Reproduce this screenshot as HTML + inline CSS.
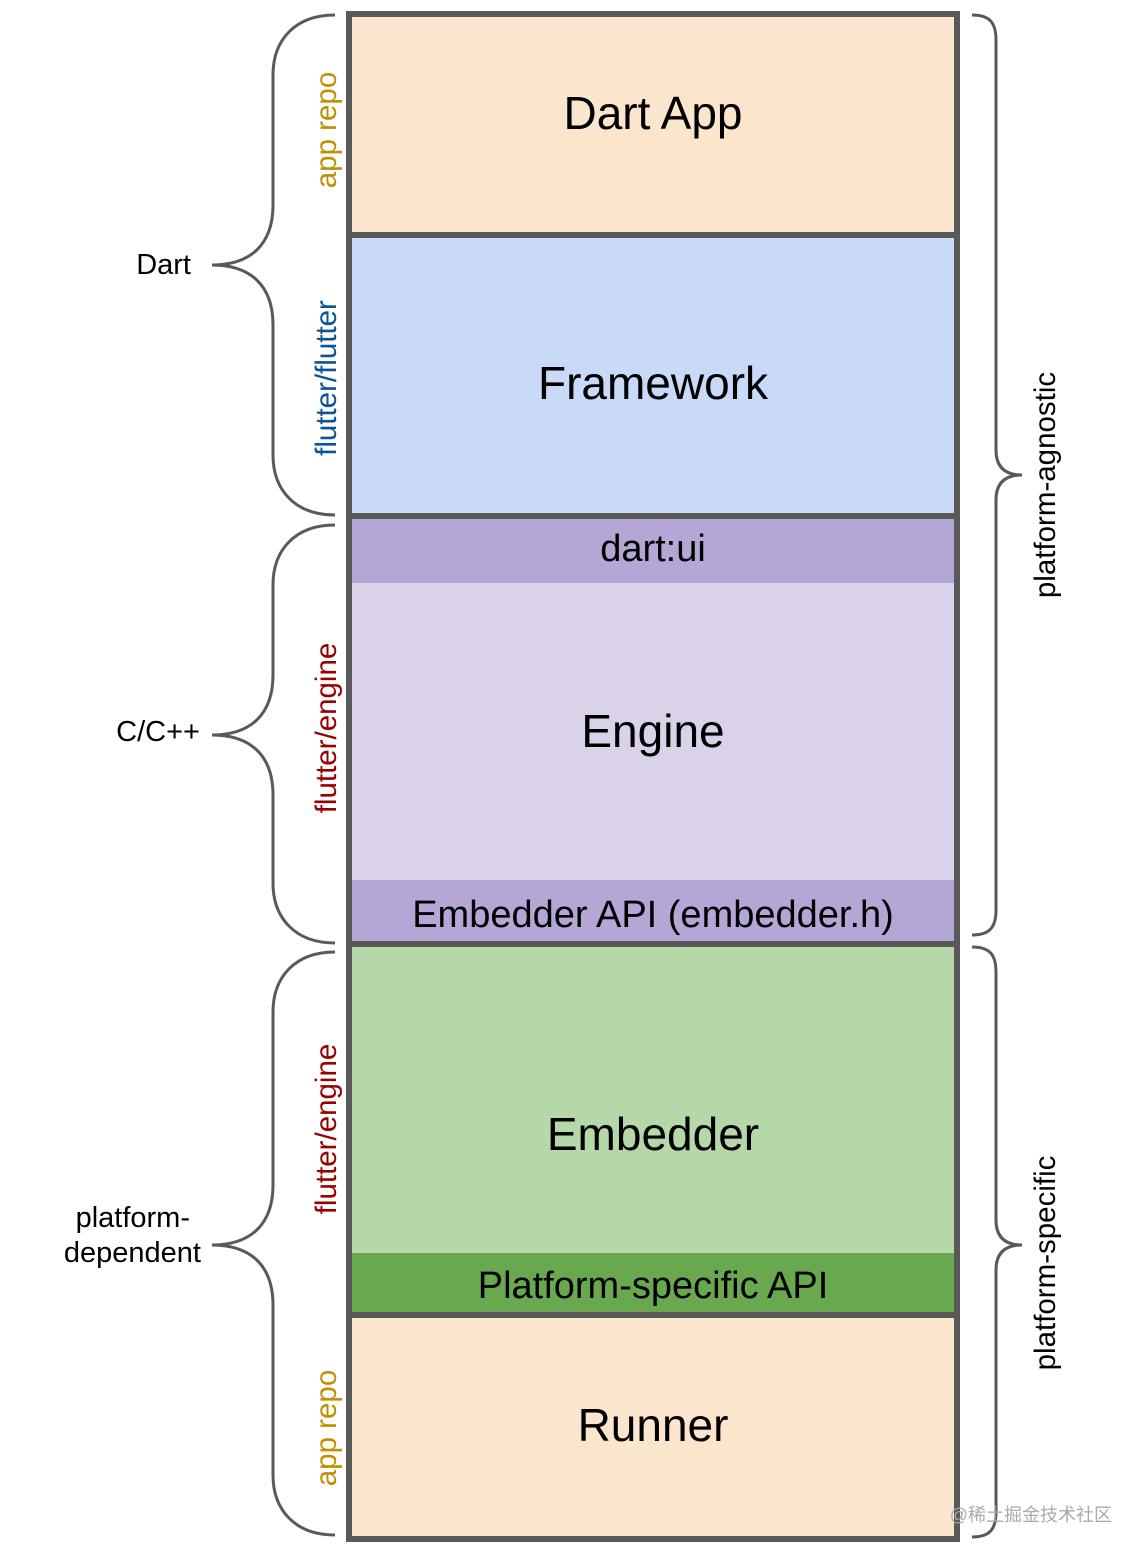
<!DOCTYPE html>
<html><head><meta charset="utf-8"><style>
html,body{margin:0;padding:0;background:#fff;}
svg{display:block;font-family:"Liberation Sans",Arial,sans-serif;}
</style></head><body>
<svg width="1148" height="1560" viewBox="0 0 1148 1560" xmlns="http://www.w3.org/2000/svg">
<rect x="349" y="14" width="608" height="221" fill="#fce5cd"/>
<rect x="349" y="235" width="608" height="281" fill="#c9daf8"/>
<rect x="349" y="516" width="608" height="67" fill="#b4a7d6"/>
<rect x="349" y="583" width="608" height="297" fill="#d9d2e9"/>
<rect x="349" y="880" width="608" height="64" fill="#b4a7d6"/>
<rect x="349" y="944" width="608" height="309" fill="#b6d7a8"/>
<rect x="349" y="1253" width="608" height="62" fill="#6aa84f"/>
<rect x="349" y="1315" width="608" height="224" fill="#fce5cd"/>
<g stroke="#595959" stroke-width="6" fill="none">
<rect x="349" y="14" width="608" height="1525"/>
<line x1="349" y1="235" x2="957" y2="235"/>
<line x1="349" y1="516" x2="957" y2="516"/>
<line x1="349" y1="944" x2="957" y2="944"/>
<line x1="349" y1="1315" x2="957" y2="1315"/>
</g>
<g stroke="#595959" stroke-width="3" fill="none">
<path d="M335 15 C295 15 273 40 273 75 L273 205 C273 245 250 265 212 265 C250 265 273 285 273 325 L273 455 C273 490 295 515 335 515"/>
<path d="M335 525 C295 525 273 550 273 585 L273 675 C273 715 250 735 212 735 C250 735 273 755 273 795 L273 883 C273 918 295 943 335 943"/>
<path d="M335 952 C295 952 273 977 273 1012 L273 1185 C273 1225 250 1245 212 1245 C250 1245 273 1265 273 1305 L273 1475 C273 1510 295 1535 335 1535"/>
<path d="M972 15 C990 15 996 23 996 40 L996 450 C996 467 1005 475 1022 475 C1005 475 996 483 996 500 L996 910 C996 927 990 935 972 935"/>
<path d="M972 947 C990 947 996 955 996 972 L996 1220 C996 1237 1005 1245 1022 1245 C1005 1245 996 1253 996 1270 L996 1512 C996 1529 990 1537 972 1537"/>
</g>
<g text-anchor="middle" fill="#000">
<text x="653" y="129" font-size="46">Dart App</text>
<text x="653" y="399" font-size="46">Framework</text>
<text x="653" y="561" font-size="38">dart:ui</text>
<text x="653" y="927" font-size="38">Embedder API (embedder.h)</text>
<text x="653" y="747" font-size="46">Engine</text>
<text x="653" y="1150" font-size="46">Embedder</text>
<text x="653" y="1298" font-size="38">Platform-specific API</text>
<text x="653" y="1441" font-size="46">Runner</text>
</g>
<g font-size="29" fill="#000" text-anchor="end">
<text x="191" y="274">Dart</text>
<text x="200" y="741">C/C++</text>
<text x="190" y="1227">platform-</text>
<text x="201" y="1262">dependent</text>
</g>
<g font-size="29.5" text-anchor="middle">
<text transform="translate(336,130) rotate(-90)" fill="#bf9000">app repo</text>
<text transform="translate(336,378) rotate(-90)" fill="#0b5394">flutter/flutter</text>
<text transform="translate(336,728) rotate(-90)" fill="#990000">flutter/engine</text>
<text transform="translate(336,1129) rotate(-90)" fill="#990000">flutter/engine</text>
<text transform="translate(336,1428) rotate(-90)" fill="#bf9000">app repo</text>
<text transform="translate(1055,485) rotate(-90)" fill="#000">platform-agnostic</text>
<text transform="translate(1055,1263) rotate(-90)" fill="#000">platform-specific</text>
</g>
<text x="1112" y="1521" font-size="18" fill="#aaa" text-anchor="end" font-family="'Liberation Sans','Noto Sans CJK SC',sans-serif">@稀土掘金技术社区</text>
</svg>
</body></html>
